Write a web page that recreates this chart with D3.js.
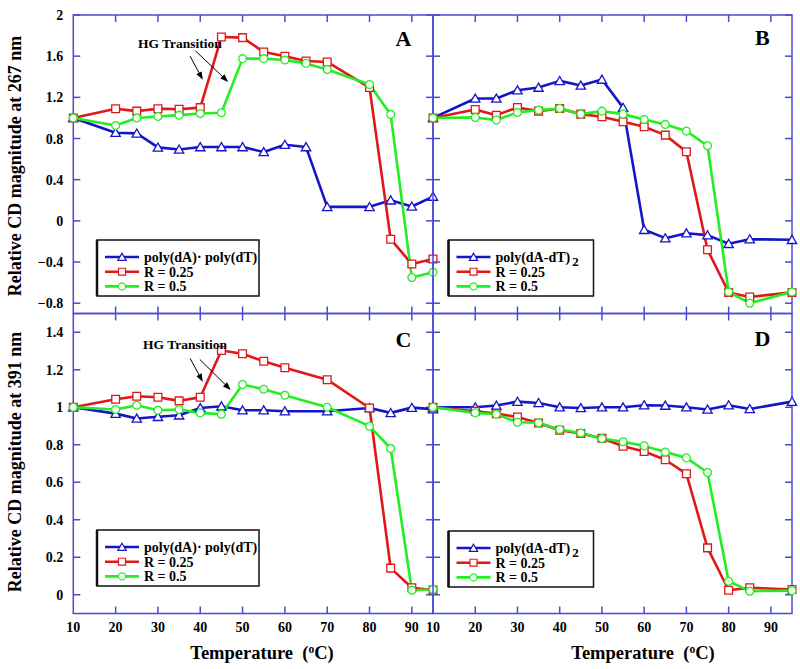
<!DOCTYPE html>
<html>
<head>
<meta charset="utf-8">
<script src="https://cdn.jsdelivr.net/npm/d3@7"></script>
<style>
  body { margin: 0; background: #fff; }
  svg text { font-family: "Liberation Serif", "Times New Roman", serif; font-weight: bold; }
</style>
</head>
<body>
<svg id="chart" width="800" height="669"></svg>
<script>
// temperatures (x) for each panel
var tempsA = [10, 20, 25, 30, 35, 40, 45, 50, 55, 60, 65, 70, 80, 85, 90, 95];
var tempsB = [10, 20, 25, 30, 35, 40, 45, 50, 55, 60, 65, 70, 75, 80, 85, 95];
var tempsC = [10, 20, 25, 30, 35, 40, 45, 50, 55, 60, 70, 80, 85, 90, 95];
var tempsD = [10, 20, 25, 30, 35, 40, 45, 50, 55, 60, 65, 70, 75, 80, 85, 95];

// panel A: 267 nm, poly(dA).poly(dT)
var aPoly = [1.0, 0.856, 0.85, 0.714, 0.694, 0.717, 0.717, 0.717, 0.669, 0.74, 0.717, 0.136, 0.136, 0.20, 0.14, 0.236];
var aR25  = [1.0, 1.09, 1.066, 1.09, 1.085, 1.10, 1.786, 1.78, 1.64, 1.60, 1.553, 1.544, 1.295, -0.178, -0.42, -0.371];
var aR50  = [1.0, 0.927, 1.0, 1.014, 1.027, 1.043, 1.05, 1.576, 1.576, 1.563, 1.53, 1.47, 1.324, 1.034, -0.55, -0.50];

// panel B: 267 nm, poly(dA-dT)2
var bPoly = [1.0, 1.189, 1.189, 1.269, 1.295, 1.36, 1.315, 1.373, 1.10, -0.087, -0.168, -0.12, -0.139, -0.223, -0.178, -0.184];
var bR25  = [1.0, 1.082, 1.027, 1.101, 1.066, 1.092, 1.037, 1.011, 0.963, 0.914, 0.833, 0.672, -0.281, -0.695, -0.739, -0.695];
var bR50  = [1.0, 1.005, 0.979, 1.053, 1.076, 1.092, 1.037, 1.066, 1.037, 0.985, 0.937, 0.872, 0.73, -0.69, -0.80, -0.69];

// panel C: 391 nm, poly(dA).poly(dT)
var cPoly = [1.0, 0.966, 0.94, 0.949, 0.957, 0.996, 1.005, 0.984, 0.984, 0.979, 0.979, 0.996, 0.97, 0.998, 0.99];
var cR25  = [1.0, 1.043, 1.059, 1.053, 1.034, 1.053, 1.303, 1.285, 1.245, 1.211, 1.147, 0.996, 0.142, 0.037, 0.025];
var cR50  = [1.0, 0.988, 1.011, 0.984, 0.988, 0.97, 0.963, 1.121, 1.096, 1.064, 1.0, 0.899, 0.78, 0.024, 0.028];

// panel D: 391 nm, poly(dA-dT)2
var dPoly = [1.0, 1.0, 1.009, 1.03, 1.023, 1.0, 0.996, 1.0, 1.0, 1.011, 1.009, 1.0, 0.988, 1.011, 0.991, 1.03];
var dR25  = [1.0, 0.979, 0.966, 0.948, 0.916, 0.877, 0.86, 0.835, 0.792, 0.764, 0.72, 0.645, 0.25, 0.024, 0.037, 0.028];
var dR50  = [1.0, 0.97, 0.963, 0.92, 0.917, 0.881, 0.863, 0.833, 0.816, 0.794, 0.761, 0.73, 0.652, 0.072, 0.019, 0.022];

var xTicks = [10, 20, 30, 40, 50, 60, 70, 80, 90];
var yTicksTop = [-0.8, -0.4, 0, 0.4, 0.8, 1.2, 1.6, 2];
var yTicksBottom = [0, 0.2, 0.4, 0.6, 0.8, 1, 1.2, 1.4];

var colors = ['#1515c8', '#e01818', '#22ee22'];
var shapes = [d3.symbolTriangle, d3.symbolSquare, d3.symbolCircle];

var svg = d3.select('#chart');
var axisColor = '#4a4ad8';

var xLeft = d3.scaleLinear().domain([10, 95]).range([73.3, 433]);
var xRight = d3.scaleLinear().domain([10, 95]).range([433, 792]);
var yTop = d3.scaleLinear().domain([-0.9, 2]).range([313.5, 15]);
var yBot = d3.scaleLinear().domain([-0.1, 1.5]).range([613.5, 313.5]);

function fmt(v) { return v == 0 ? '0' : d3.format('')(+v.toFixed(1)); }

function drawPanel(opt) {
    var x = opt.x, y = opt.y;
    var g = svg.append('g');
    var x0 = x.range()[0], x1 = x.range()[1];
    var y0 = y.range()[1], y1 = y.range()[0];
    var tl = 7;

    // frame
    g.append('rect')
        .attr('x', x0).attr('y', y0)
        .attr('width', x1 - x0).attr('height', y1 - y0)
        .attr('fill', 'none').attr('stroke', axisColor).attr('stroke-width', 1.5);

    // ticks inward on all sides
    var tk = g.append('g').attr('stroke', axisColor).attr('stroke-width', 1.5);
    xTicks.forEach(function(t) {
        if (t == 10) return;
        tk.append('line').attr('x1', x(t)).attr('x2', x(t)).attr('y1', y0).attr('y2', y0 + tl);
        tk.append('line').attr('x1', x(t)).attr('x2', x(t)).attr('y1', y1).attr('y2', y1 - tl);
    });
    opt.yTicks.forEach(function(t) {
        tk.append('line').attr('x1', x0).attr('x2', x0 + tl).attr('y1', y(t)).attr('y2', y(t));
        tk.append('line').attr('x1', x1).attr('x2', x1 - tl).attr('y1', y(t)).attr('y2', y(t));
    });

    if (opt.yLabels) {
        g.selectAll('.ylab').data(opt.yTicks).enter().append('text')
            .attr('x', x0 - 10).attr('y', d => y(d) + 5)
            .attr('text-anchor', 'end').attr('font-size', 14)
            .text(fmt);
    }
    if (opt.xLabels) {
        g.selectAll('.xlab').data(xTicks).enter().append('text')
            .attr('x', d => x(d)).attr('y', 632)
            .attr('text-anchor', 'middle').attr('font-size', 14)
            .text(d => d);
    }

    // series
    var line = d3.line().x((d, i) => x(opt.temps[i])).y(d => y(d));
    opt.series.forEach(function(vals, k) {
        g.append('path').datum(vals)
            .attr('d', line)
            .attr('fill', 'none').attr('stroke', colors[k]).attr('stroke-width', 2.6)
            .attr('stroke-linejoin', 'round');
    });
    opt.series.forEach(function(vals, k) {
        var sym = d3.symbol().type(shapes[k]).size(k == 0 ? 38 : (k == 1 ? 60 : 48));
        g.selectAll('.m' + k).data(vals).enter().append('path')
            .attr('d', sym)
            .attr('transform', (d, i) => 'translate(' + x(opt.temps[i]) + ',' + (y(d) + (k == 0 ? 1 : 0)) + ')')
            .attr('fill', '#fff').attr('stroke', colors[k]).attr('stroke-width', 1.3);
    });

    // panel letter
    g.append('text').attr('x', x(opt.letterAt[0])).attr('y', y(opt.letterAt[1]))
        .attr('text-anchor', 'middle').attr('font-size', 22).text(opt.letter);

    // legend
    var lg = opt.legend;
    g.append('rect').attr('x', lg.x).attr('y', lg.y).attr('width', lg.w).attr('height', 56)
        .attr('fill', '#fff').attr('stroke', '#111').attr('stroke-width', 1.5);
    g.append('line').attr('x1', lg.x).attr('x2', lg.x).attr('y1', lg.y).attr('y2', lg.y + 56)
        .attr('stroke', '#111').attr('stroke-width', 2.5);
    opt.legendNames.forEach(function(name, k) {
        var ry = lg.y + 17 + k * 14.7;
        g.append('line').attr('x1', lg.x + 8).attr('x2', lg.x + 42).attr('y1', ry).attr('y2', ry)
            .attr('stroke', colors[k]).attr('stroke-width', 2.6);
        g.append('path').attr('d', d3.symbol().type(shapes[k]).size(k == 0 ? 30 : (k == 1 ? 48 : 40))())
            .attr('transform', 'translate(' + (lg.x + 25) + ',' + (ry + (k == 0 ? 1 : 0)) + ')')
            .attr('fill', '#fff').attr('stroke', colors[k]).attr('stroke-width', 1.2);
        var t = g.append('text').attr('x', lg.x + 47).attr('y', ry + 5).attr('font-size', 14);
        if (name == 'poly(dA-dT)2') {
            t.append('tspan').text('poly(dA-dT)');
            t.append('tspan').attr('dy', 4).attr('dx', 2).attr('font-size', 13).text('2');
        } else {
            t.text(name);
        }
    });

    // HG transition annotation
    if (opt.hg) {
        var h = opt.hg;
        g.append('text').attr('x', x(h.text[0])).attr('y', y(h.text[1]) + 5)
            .attr('text-anchor', 'middle').attr('font-size', 13.5).text('HG Transition');
        h.arrows.forEach(function(a) {
            var sx = x(a[0]), sy = y(a[1]), ex = x(a[2]), ey = y(a[3]);
            var ang = Math.atan2(ey - sy, ex - sx);
            g.append('line').attr('x1', sx).attr('y1', sy).attr('x2', ex - 5 * Math.cos(ang)).attr('y2', ey - 5 * Math.sin(ang))
                .attr('stroke', '#000').attr('stroke-width', 1);
            var hl = 8, hw = 3;
            var p = [[ex, ey],
                [ex - hl * Math.cos(ang) + hw * Math.sin(ang), ey - hl * Math.sin(ang) - hw * Math.cos(ang)],
                [ex - hl * Math.cos(ang) - hw * Math.sin(ang), ey - hl * Math.sin(ang) + hw * Math.cos(ang)]];
            g.append('path').attr('d', 'M' + p.join('L') + 'Z').attr('fill', '#000');
        });
    }
}

var namesA = ['poly(dA)\u00b7 poly(dT)', 'R = 0.25', 'R = 0.5'];
var namesB = ['poly(dA-dT)2', 'R = 0.25', 'R = 0.5'];

drawPanel({ x: xLeft, y: yTop, yTicks: yTicksTop, yLabels: true, xLabels: false,
    temps: tempsA, series: [aPoly, aR25, aR50], letter: 'A', letterAt: [88, 1.7],
    legend: { x: 97, y: 240, w: 162 }, legendNames: namesA,
    hg: { text: [35.2, 1.73], arrows: [[37.6, 1.60, 40.6, 1.37], [38.9, 1.65, 46.6, 1.35]] } });

drawPanel({ x: xRight, y: yTop, yTicks: yTicksTop, yLabels: false, xLabels: false,
    temps: tempsB, series: [bPoly, bR25, bR50], letter: 'B', letterAt: [88, 1.71],
    legend: { x: 448.5, y: 240, w: 145 }, legendNames: namesB });

drawPanel({ x: xLeft, y: yBot, yTicks: yTicksBottom, yLabels: true, xLabels: true,
    temps: tempsC, series: [cPoly, cR25, cR50], letter: 'C', letterAt: [88, 1.32],
    legend: { x: 97, y: 530, w: 162 }, legendNames: namesA,
    hg: { text: [36.4, 1.337], arrows: [[37.6, 1.261, 40.6, 1.136], [39.9, 1.255, 47.2, 1.092]] } });

drawPanel({ x: xRight, y: yBot, yTicks: yTicksBottom, yLabels: false, xLabels: true,
    temps: tempsD, series: [dPoly, dR25, dR50], letter: 'D', letterAt: [88, 1.325],
    legend: { x: 448.5, y: 531, w: 145 }, legendNames: namesB });

// axis titles
function yTitle(text, cy) {
    svg.append('text').attr('transform', 'translate(21,' + cy + ') rotate(-90)')
        .attr('text-anchor', 'middle').attr('font-size', 18).text(text);
}
yTitle('Relative CD magnitude at 267 nm', 166);
yTitle('Relative CD magnitude at 391 nm', 462);

function xTitle(cx) {
    var t = svg.append('text').attr('x', cx).attr('y', 659).attr('text-anchor', 'middle').attr('font-size', 18.5);
    t.append('tspan').text('Temperature\u00a0\u00a0(');
    t.append('tspan').attr('dy', -6).attr('font-size', 11.5).text('o');
    t.append('tspan').attr('dy', 6).text('C)');
}
xTitle(262);
xTitle(643);
</script>
</body>
</html>
